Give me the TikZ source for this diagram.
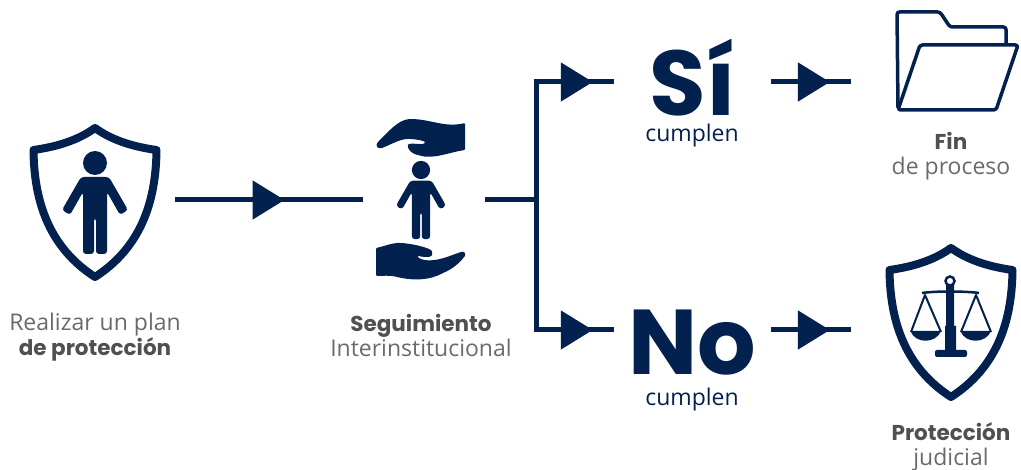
\documentclass[tikz,border=0pt]{standalone}
\usepackage{fontspec}
\setmainfont{Open Sans}
\newfontfamily\gruesa{Poppins}
\usetikzlibrary{arrows.meta,decorations.markings}
\definecolor{marino}{HTML}{03214F}
\definecolor{grisclaro}{HTML}{6A6A6A}
\definecolor{grisoscuro}{HTML}{505050}
\newcommand{\fuerte}[1]{{\color{grisoscuro}\gruesa\bfseries\fontsize{21.5}{25}\selectfont #1}}

\begin{document}
\begin{tikzpicture}[x=1pt,y=-1pt,
  linea/.style = {draw=marino, line width=5pt},
  flecha/.style = {linea, postaction={decorate}, decoration={markings,
    mark=at position #1 with {\arrow[marino]{Triangle[length=32pt,width=38pt]}}}},
  caja/.style = {inner sep=0pt, minimum height=10pt},
  grande/.style = {caja, text=marino, text depth=0pt, font=\gruesa\bfseries\fontsize{92}{92}\selectfont},
  pequeno/.style = {inner sep=0pt, text=marino, font=\fontsize{23}{25}\selectfont},
  rotulo/.style = {align=center, text=grisclaro, font=\fontsize{23}{25}\selectfont},
  escudo/.pic = {
    \draw[marino, line width=8pt, line join=round, fill=white]
      (0,5) .. controls (-18,18) and (-40,24) .. (-61.5,27)
      .. controls (-61,80) and (-45,125) .. (0,154)
      .. controls (45,125) and (61,80) .. (61.5,27)
      .. controls (40,24) and (18,18) .. cycle;
  },
  persona/.pic = {
    \fill[marino] (0,0) circle (12);
    \fill[marino, rounded corners=3pt]
      (-14,14) -- (14,14) -- (33,47) -- (25,52) -- (12,29) -- (12,91) -- (1,91)
      -- (1,55) -- (-1,55) -- (-1,91) -- (-12,91) -- (-12,29) -- (-25,52) -- (-33,47) -- cycle;
  }]
\useasboundingbox (0,0) rectangle (1021,470);

\node[caja, minimum width=160pt] (plan) at (95,200) {};
\node[caja, minimum width=122pt] (seguimiento) at (424,200) {};
\node[grande, text height=68pt, minimum width=157pt] (si) at (692.5,82) {Sí};
\node[grande, text height=90pt, minimum width=157pt] (no) at (692.5,330) {No};
\node[caja, minimum width=150pt] (fin) at (926,82) {};
\node[caja, minimum width=150pt] (proteccion) at (926,330) {};
\coordinate (cruce) at (536,200);
\coordinate (codosi) at (cruce |- si.west);
\coordinate (codono) at (cruce |- no.west);

\pic at (95,123) {escudo};
\pic at (95,163) {persona};
\pic at (951,243) {escudo};
\pic[scale=.76] at (421,170) {persona};

% manos
\fill[marino, rounded corners=1pt] (465,123) .. controls (445,128) and (430,119) .. (410,119)
  .. controls (398,120) and (388,132) .. (378,142) .. controls (375,146) and (378,149) .. (382,148)
  .. controls (392,144) and (400,139) .. (409,139) .. controls (416,139) and (425,141) .. (425,143)
  .. controls (422,145) and (414,143) .. (408,144) .. controls (407,150) and (413,154) .. (418,155)
  .. controls (433,160) and (450,152) .. (465,150) -- cycle;
\fill[marino, rounded corners=1pt] (376,248) .. controls (385,246) and (392,243) .. (399,243)
  .. controls (410,243) and (431,248) .. (432,252) .. controls (433,256) and (430,257) .. (426,257)
  .. controls (422,257) and (419,256) .. (417,256) .. controls (420,260) and (428,261) .. (434,260)
  .. controls (443,259) and (452,255) .. (461,252) .. controls (465,251) and (466,255) .. (464,257)
  .. controls (458,265) and (450,270) .. (443,273) .. controls (430,280) and (415,281) .. (397,277)
  .. controls (390,275) and (382,276) .. (376,276) -- cycle;

% carpeta
\draw[marino, line width=3.5pt, line join=round, rounded corners=2.5pt]
  (898,108) -- (897,12) -- (940,12) -- (950,27) -- (1006,27) -- (1006,45);
\draw[marino, line width=3.5pt, line join=round, rounded corners=2.5pt]
  (898,110) -- (920,45) -- (1018,45) -- (996,110) -- cycle;

% balanza
\draw[marino, line width=2.5pt] (950,281) circle (4.5);
\fill[marino] (946,285) -- (954,285) -- (954,326) -- (956,326) -- (956,350) -- (945,350) -- (945,326) -- (946,326) -- cycle;
\fill[marino, rounded corners=2pt] (935,350) rectangle (967,357);
\draw[marino, line width=2.5pt] (922,293) .. controls (935,291) and (965,291) .. (979,293);
\draw[marino, line width=2pt, line join=round] (911,332) -- (925,295) -- (941,332);
\draw[marino, line width=2pt, line join=round] (961,332) -- (976,295) -- (991,332);
\fill[marino] (910.5,331) .. controls (915,344) and (936,344) .. (941,331) -- cycle;
\fill[marino] (960.5,331) .. controls (965,344) and (986,344) .. (991,331) -- cycle;

\node[pequeno] (cumplensi) at (692,136) {cumplen};
\node[pequeno] (cumplenno) at (692,400) {cumplen};
\node[rotulo] (rotuloplan) at (95,337) {Realizar un plan\\\fuerte{de protección}};
\node[rotulo] (rotuloseg) at (421,336) {\fuerte{Seguimiento}\\Interinstitucional};
\node[rotulo] (rotulofin) at (951,156) {\fuerte{Fin}\\de proceso};
\node[rotulo] (rotuloprot) at (951,447) {\fuerte{Protección}\\judicial};

\draw[flecha=.583] (plan.east) -- (seguimiento.west);
\draw[linea] (seguimiento.east) -- (cruce);
\draw[linea, line cap=rect] (codosi) -- (codono);
\draw[flecha=.73] (codosi) -- (si.west);
\draw[flecha=.73] (codono) -- (no.west);
\draw[flecha=.7375] (si.east) -- (fin.west);
\draw[flecha=.7375] (no.east) -- (proteccion.west);

\end{tikzpicture}
\end{document}
